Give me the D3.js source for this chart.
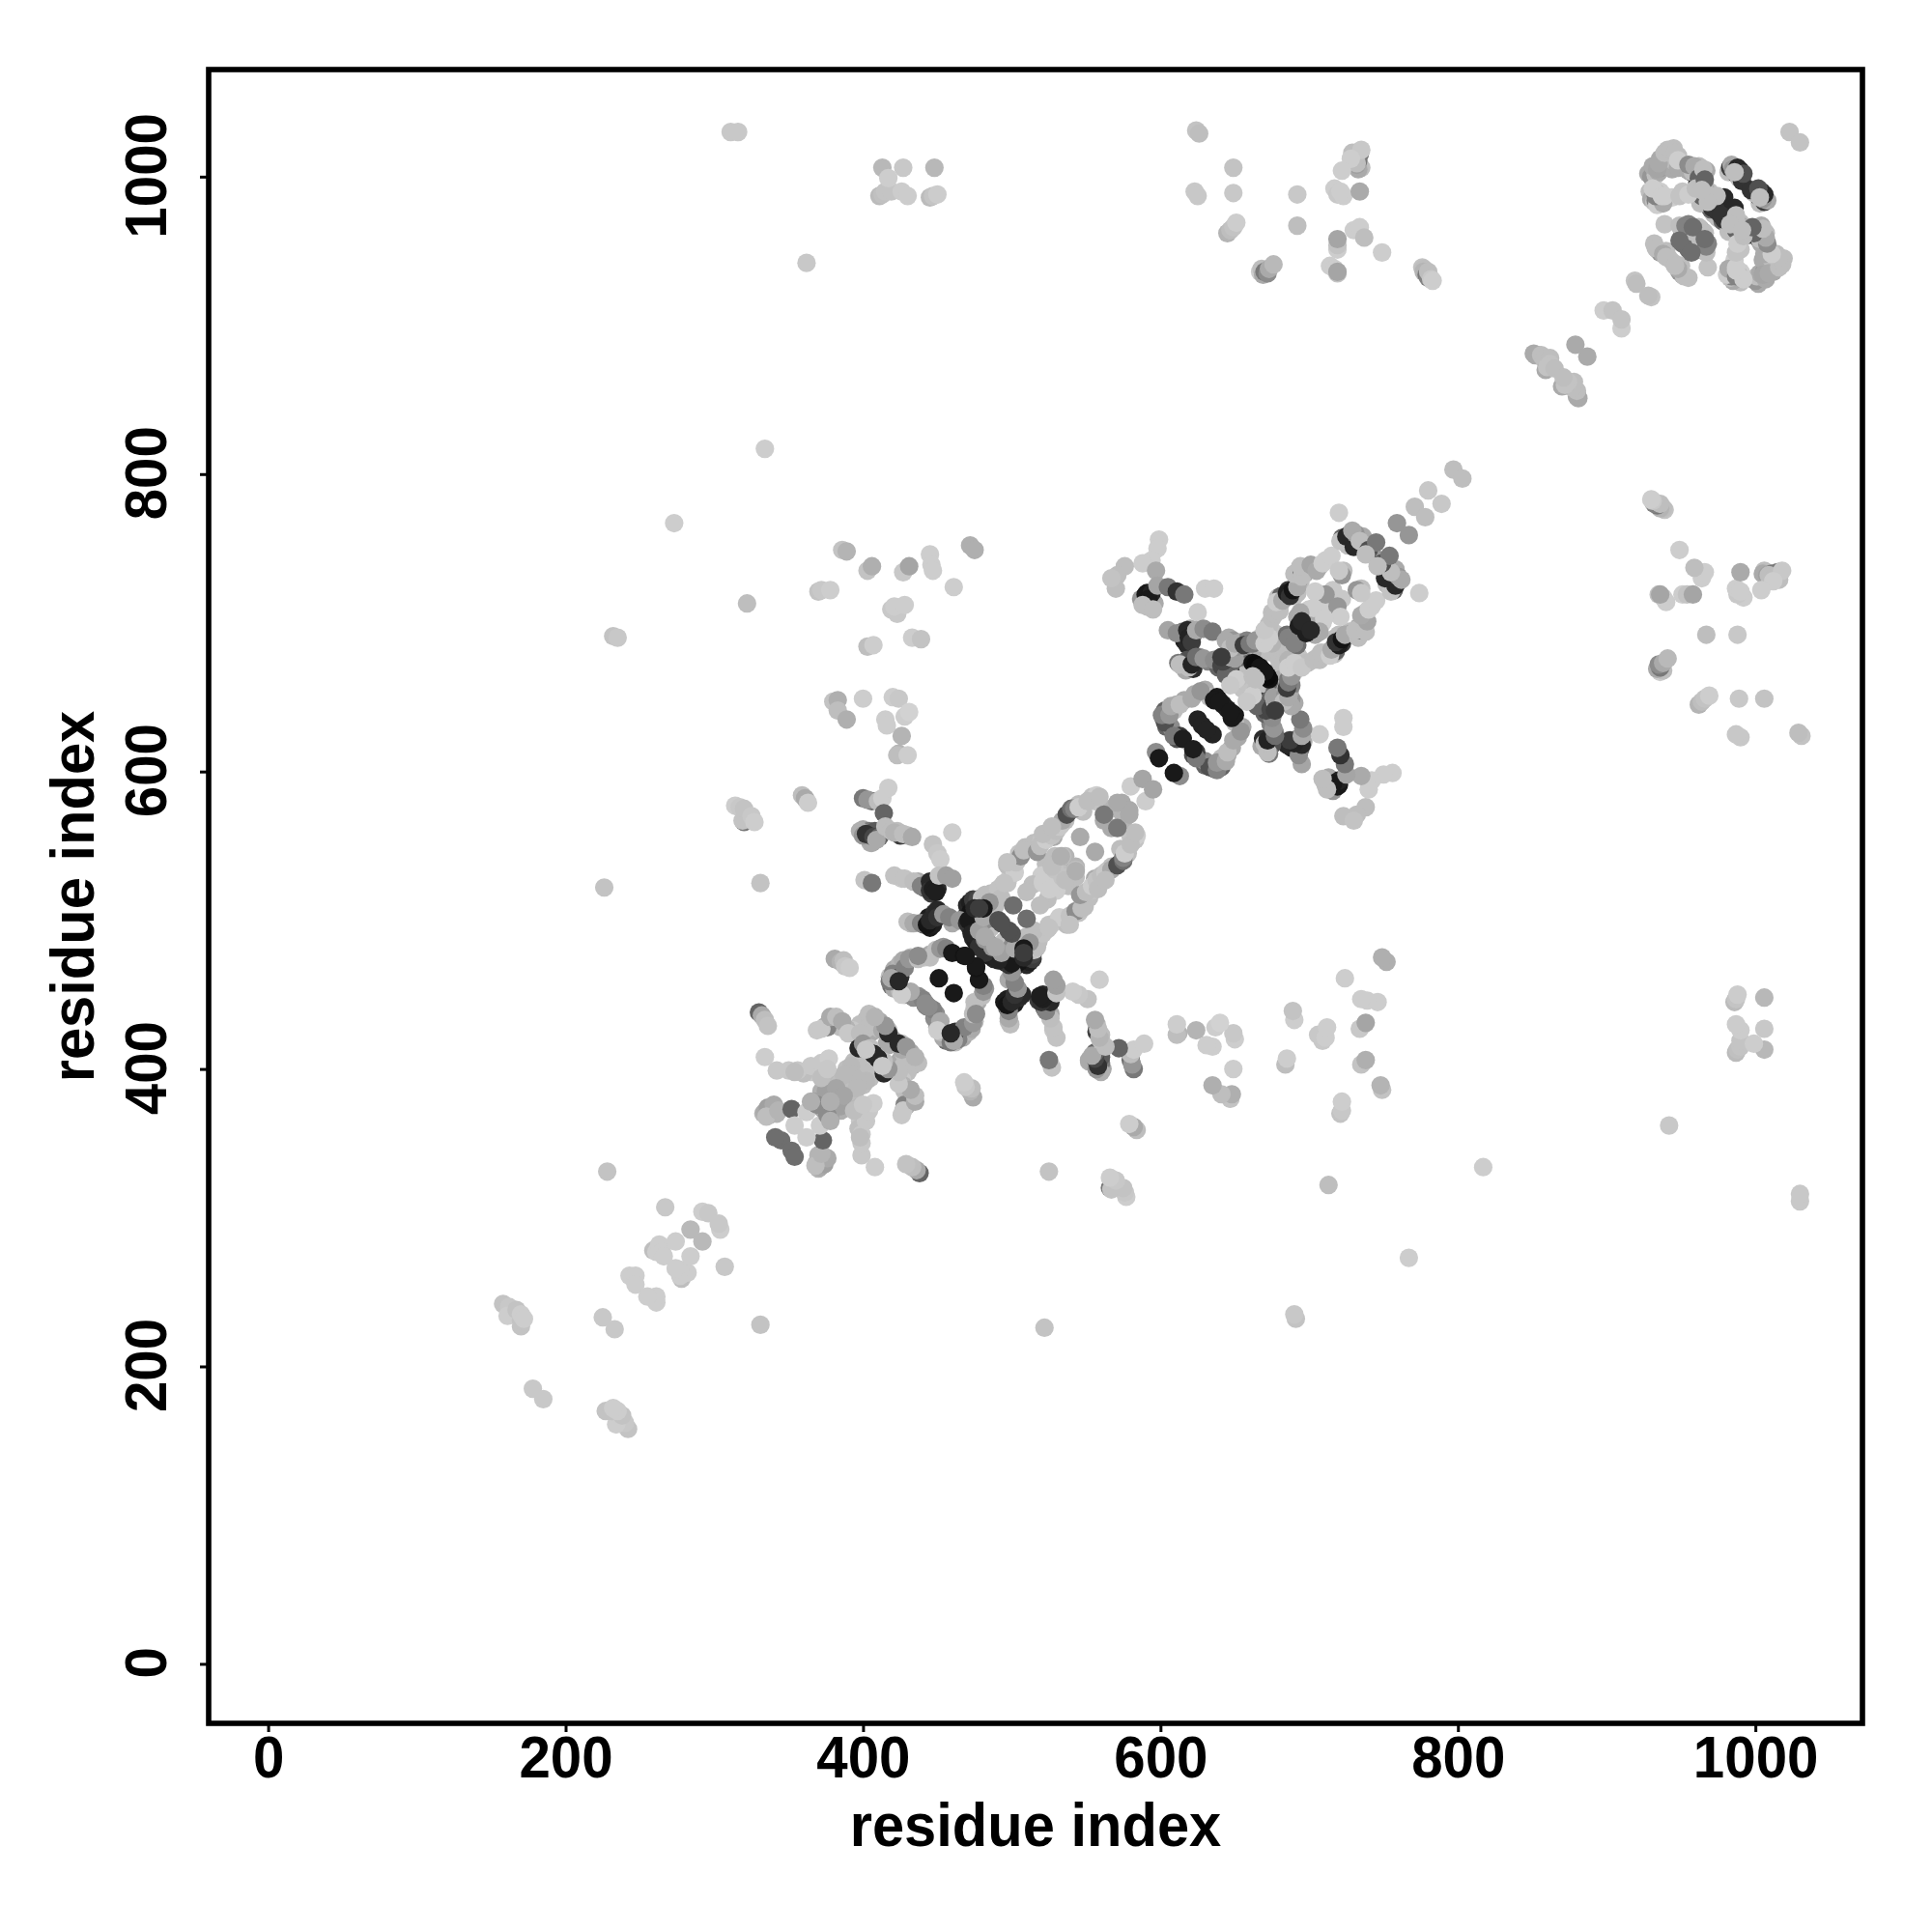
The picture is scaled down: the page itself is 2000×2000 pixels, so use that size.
<!DOCTYPE html>
<html>
<head>
<meta charset="utf-8">
<script src="https://cdnjs.cloudflare.com/ajax/libs/d3/7.8.5/d3.min.js"></script>
<style>html,body{margin:0;padding:0;background:#fff}svg{display:block}</style>
</head>
<body>
<script>
// Each contact: [residue i, residue j, grey level]; the map is symmetric, so j > i is listed.
const topLeftContacts=[[311,1030,200],[316,1030,200],[362,942,200],[413,1006,184],[427,1006,200],[448,1006,184],[411,987,187],[413,988,192],[415,990,196],[419,990,196],[417,999,205],[426,990,204],[430,987,204],[445,986,187],[447,987,196],[450,988,204]];
const topMiddleContacts=[[624,1031,195],[626,1029,190],[649,1006,195],[623,990,200],[625,987,200],[649,989,200],[645,962,180],[647,964,190],[649,966,195],[651,969,205],[692,988,200],[692,967,190],[667,936,205],[668,938,190],[669,934,170],[670,936,120],[672,935,140],[673,938,170],[676,941,185],[714,940,205],[717,938,205],[719,935,195],[719,936,165],[749,949,205],[719,951,205],[719,954,195],[719,958,165],[730,964,205],[734,966,205],[737,959,190],[776,939,195],[777,938,190],[777,936,180],[779,934,120],[780,932,130],[780,936,190],[782,931,200],[783,930,205],[735,1006,190],[733,1005,170],[732,1008,160],[733,1011,120],[734,1015,120],[730,1010,195],[732,1009,190],[731,1013,190],[729,1016,190],[735,1018,200],[728,1012,205],[722,1004,205],[717,992,205],[719,988,200],[723,987,205],[721,990,205],[734,990,170]];
const upperFarContacts=[[334,817,205],[322,713,190],[386,749,195],[389,748,180],[403,735,195],[406,738,175],[427,734,200],[431,738,165],[445,746,205],[446,739,205],[447,735,205],[472,752,175],[475,749,175],[461,724,205],[370,721,195],[372,722,200],[378,722,205],[419,709,200],[423,706,200],[421,711,205],[428,712,205],[403,684,190],[407,685,205],[433,690,205],[439,689,195],[380,647,195],[383,648,175],[383,641,190],[389,635,175],[400,649,205],[420,650,205],[424,649,200],[415,635,205],[416,631,205],[428,637,205],[431,640,210],[426,624,180],[424,612,180],[423,611,190],[430,611,205],[273,767,205],[232,691,195],[235,690,200],[226,522,195],[228,331,195]];
const legExtra=[[400,561,170],[404,560,120],[405,555,90],[412,558,170],[405,552,175],[408,560,90],[417,561,190],[423,560,190],[430,557,180],[426,558,190],[406,552,170],[406,580,110],[426,528,200],[437,526,170],[432,498,190],[460,498,170],[443,524,40],[444,522,70],[446,524,30],[441,522,90],[448,523,35],[446,518,60],[449,524,30],[450,521,40],[441,497,90],[444,502,30],[447,498,25],[448,505,45],[445,495,25],[447,497,30],[470,504,50],[472,495,30],[474,488,40],[476,485,30],[479,487,90],[483,491,160],[476,503,140],[483,498,170],[486,495,190],[478,508,190],[482,500,140],[486,505,180],[489,510,190],[477,493,30],[476,498,25],[477,502,30],[478,507,50],[482,513,160],[470,510,40],[472,512,30],[474,514,60],[472,505,20],[476,507,35]];
const legContacts=[[314,577,205],[317,576,200],[320,566,120],[319,567,195],[320,575,195],[325,570,200],[327,566,205],[359,584,190],[361,582,170],[363,579,205],[331,525,195],[401,527,195],[406,525,120],[400,582,120],[403,581,150],[410,580,190],[413,582,205],[417,589,205],[414,572,100],[398,560,175],[400,557,150],[402,558,50],[407,556,70],[411,556,100],[409,554,170],[415,563,190],[419,560,190],[425,557,60],[421,559,180],[427,558,190],[433,556,170],[447,551,195],[450,545,200],[452,541,205],[460,559,205],[421,530,195],[428,528,195],[434,526,190],[439,523,130],[445,526,40],[445,520,50],[447,521,30],[449,519,30],[451,530,195],[456,530,160],[460,528,160],[430,499,190],[434,498,170],[439,498,130],[443,497,20],[445,500,40],[450,507,40],[450,502,50],[454,504,150],[458,502,130],[465,500,150],[470,498,50],[473,500,40],[475,511,60],[477,514,70],[471,500,25],[473,491,35],[478,482,50],[482,487,150],[478,493,160],[481,502,170],[486,511,190],[484,517,180]];
const ringExtra=[[418,462,190],[421,467,170],[425,471,180],[427,473,170],[432,475,190],[441,475,200],[445,477,170],[449,480,190],[454,482,150],[419,456,110],[421,454,170],[425,452,190],[430,451,150],[437,449,140],[442,443,130]];
const ringContacts=[[418,459,120],[420,464,130],[425,462,50],[428,468,130],[431,474,150],[437,474,190],[445,475,190],[452,481,150],[456,481,130],[460,478,25],[468,476,20],[476,469,25],[419,461,170],[428,450,150],[434,448,140],[440,447,130],[444,442,140],[432,452,170],[451,461,25],[426,450,205],[424,459,40],[437,476,140]];
const firstHelixExtra=[[480,515,195],[486,518,190],[494,524,195],[499,530,205],[497,537,190],[501,537,195],[504,541,170],[505,545,195],[509,549,190],[515,552,190],[520,554,195],[525,557,190],[528,556,170],[533,564,190],[536,567,190],[540,574,170],[545,578,190],[548,573,190],[554,583,195],[557,584,205],[556,580,195],[529,543,190],[523,538,190],[532,536,190],[536,543,180],[520,530,205],[514,524,190],[526,528,205],[567,575,180],[562,567,170],[574,579,170]];
const firstHelixContacts=[[482,517,190],[491,521,195],[497,525,195],[493,515,190],[502,532,205],[503,539,195],[506,543,140],[508,547,190],[517,546,150],[519,550,190],[523,554,205],[527,557,195],[530,560,190],[532,563,200],[534,567,170],[537,571,80],[540,575,110],[542,575,130],[545,576,205],[551,580,190],[559,583,190],[501,510,110],[491,500,80],[498,493,80],[510,519,190],[521,525,205],[526,528,205],[521,526,205],[529,534,195],[534,543,190],[527,536,190],[533,543,175],[546,556,170],[562,571,120],[571,579,170],[580,590,205],[588,595,165],[482,489,170],[497,539,195],[495,525,195],[485,512,150],[475,508,40],[481,508,25],[478,508,60],[521,558,190],[527,563,190],[597,613,140],[599,609,25]];
const denseCoreExtra=[[408,434,190],[402,433,180],[398,430,190],[393,426,200],[389,427,180],[381,433,190],[378,432,170],[375,429,170],[369,426,200],[385,428,190],[402,409,190],[400,413,40],[398,415,190],[401,421,170],[406,425,170],[411,427,190],[417,426,190],[419,421,170],[416,417,170],[404,437,190],[411,432,170],[389,400,190],[394,405,190],[397,403,190],[384,392,190],[380,390,185],[385,391,190],[372,385,175],[367,378,160],[372,374,170],[380,381,170],[365,398,200],[372,401,205],[360,397,190],[333,370,180],[337,369,170],[338,372,130],[339,373,190],[342,370,180]];
const denseCoreContacts=[[334,408,205],[342,399,200],[350,399,200],[356,399,200],[365,402,200],[372,404,200],[377,407,205],[330,438,100],[332,436,170],[334,433,190],[336,429,195],[334,371,170],[336,374,160],[340,376,170],[335,368,190],[343,372,180],[352,373,100],[362,371,205],[354,362,205],[345,352,110],[341,354,110],[376,428,130],[372,427,200],[378,435,170],[382,435,190],[386,432,170],[390,424,200],[406,433,190],[402,427,190],[398,424,190],[397,414,40],[400,417,150],[405,414,190],[413,426,170],[417,424,40],[415,429,150],[408,435,180],[410,407,30],[407,410,40],[392,402,185],[393,396,185],[387,396,185],[375,385,160],[382,387,165],[369,376,140],[378,378,175],[365,378,175],[402,413,200],[372,394,190],[376,400,200],[354,398,190],[381,474,170],[385,472,180],[387,473,190],[388,469,200],[391,468,205]];
const crossExtra=[[589,717,40],[591,720,30],[593,718,25],[595,714,30],[588,714,190],[591,711,190],[596,713,170],[615,694,120],[617,691,40],[620,693,60],[616,688,30],[618,685,40],[622,692,150],[620,696,170],[615,671,50],[617,668,170],[619,673,40],[618,675,80],[622,669,45],[626,677,150],[632,674,130],[639,670,100],[644,669,150],[640,674,60],[602,636,120],[604,640,170],[603,641,100],[605,636,60],[609,641,190],[611,645,170],[616,648,170],[623,652,170],[630,655,170],[633,650,190],[638,650,25],[645,642,30],[604,630,100],[607,630,140],[611,622,80],[613,624,60],[660,672,30],[665,673,20],[663,669,40],[668,668,25],[658,674,180],[680,690,190],[678,689,175],[647,662,200],[652,660,200],[656,655,195],[660,658,195],[664,654,190],[672,696,190],[674,692,200],[668,690,190],[670,681,190],[672,683,195],[674,680,190],[678,683,190],[647,668,60],[646,665,80],[648,673,100],[673,683,190],[662,681,170],[650,681,130],[654,677,100],[645,675,50]];
const crossContacts=[[599,756,205],[598,750,205],[594,742,205],[588,740,205],[576,738,190],[571,732,190],[570,723,190],[567,730,195],[597,735,170],[587,716,150],[590,719,25],[594,720,35],[592,716,25],[588,712,190],[595,709,190],[598,725,165],[605,724,120],[611,721,50],[616,719,120],[630,723,205],[636,723,205],[625,707,205],[605,695,165],[611,693,140],[618,695,40],[619,690,35],[621,687,60],[624,695,170],[629,696,140],[635,694,120],[612,673,120],[613,672,190],[619,670,190],[621,672,35],[624,677,110],[629,676,150],[636,675,140],[641,671,70],[644,665,100],[642,674,70],[648,684,170],[647,677,190],[650,676,160],[655,684,170],[662,687,170],[667,690,205],[673,695,205],[677,693,195],[603,633,80],[601,638,130],[606,638,150],[607,644,170],[613,645,190],[621,649,170],[627,654,150],[636,648,25],[640,647,25],[625,635,35],[609,624,120],[615,622,30],[628,631,35],[662,673,15],[664,672,10],[667,670,20],[651,662,205],[647,658,200],[662,664,190],[673,699,190],[671,693,190],[669,686,190],[675,686,180],[685,692,110],[686,690,130]];
const secondHelixExtra=[[673,698,190],[675,707,190],[680,711,195],[679,717,190],[683,717,60],[681,718,100],[686,722,60],[688,719,30],[690,718,190],[692,720,190],[694,727,190],[693,729,60],[697,733,170],[699,736,170],[703,737,190],[707,738,190],[711,742,205],[722,757,100],[724,754,190],[727,759,60],[728,753,40],[726,752,190],[732,756,190],[736,758,170],[735,751,60],[738,750,170],[742,748,150],[723,735,190],[716,722,200],[707,716,190],[700,709,205],[708,714,205],[699,704,170],[692,704,170],[693,698,30],[646,690,170],[649,688,150],[652,684,150],[654,687,170],[658,688,130],[662,686,120],[667,688,170]];
const secondHelixContacts=[[644,688,170],[647,683,190],[641,677,60],[650,686,170],[656,685,60],[660,686,120],[664,688,150],[670,686,205],[673,690,205],[670,695,200],[675,703,190],[677,706,190],[680,708,190],[678,714,205],[682,715,170],[685,720,30],[687,718,50],[689,722,20],[692,724,170],[690,733,190],[695,735,80],[695,731,190],[694,738,190],[701,739,165],[705,735,170],[709,740,205],[715,745,205],[721,755,195],[725,758,40],[730,751,40],[731,760,150],[729,762,170],[734,755,190],[740,749,80],[722,732,150],[720,735,200],[711,719,150],[704,721,205],[703,710,205],[694,707,170],[695,701,40],[745,754,120],[738,746,190],[759,767,150],[771,778,190],[780,789,200],[797,803,190],[720,774,205]];
const farEndExtra=[[928,1002,170],[930,1000,150],[933,1001,190],[936,1012,170],[941,1018,190],[945,1019,190],[948,1014,190],[951,1008,100],[953,1007,150],[957,1003,100],[960,1003,150],[963,995,190],[961,996,40],[969,990,190],[929,990,190],[930,985,170],[932,983,190],[935,985,130],[936,990,205],[934,989,190],[951,990,195],[944,986,205],[975,982,40],[977,984,35],[982,1003,190],[983,1006,60],[984,1008,170],[987,1002,50],[990,1004,40],[989,999,190],[991,997,50],[972,975,190],[970,978,100],[966,985,80],[963,982,190],[961,988,190],[967,990,170],[932,955,190],[934,951,170],[936,949,150],[940,950,190],[942,945,190],[951,962,130],[951,955,110],[955,968,130],[963,958,190],[963,965,170],[966,962,190],[964,987,100],[933,984,130],[936,986,170],[938,985,190],[934,981,205],[938,982,170],[933,1004,190],[935,1003,170],[936,1006,150],[938,1008,190],[941,1010,190],[944,1005,170],[943,1012,205],[946,1010,190],[948,1006,170],[955,1004,170],[967,1004,170],[963,1002,170],[958,1003,190],[962,1007,190],[957,1007,190]];
const farEndContacts=[[1023,1030,195],[931,1007,170],[934,1005,165],[935,1009,170],[939,1016,190],[943,1018,190],[946,1016,190],[948,1011,205],[955,1008,140],[959,1007,170],[962,999,100],[965,1005,190],[933,987,130],[931,992,205],[937,987,205],[939,987,205],[949,987,195],[955,988,205],[960,992,190],[965,992,190],[970,987,190],[979,986,40],[985,1005,150],[988,1006,40],[992,1002,80],[986,1003,190],[939,968,195],[949,967,190],[953,967,130],[958,966,110],[949,957,110],[933,952,190],[938,948,170],[940,946,190],[971,979,50],[974,977,50],[974,987,190],[968,983,190],[966,998,100],[964,991,190],[919,930,195],[920,928,190],[898,910,205],[904,910,195],[879,887,170],[851,881,170],[854,880,170],[852,880,170],[856,880,190],[858,877,190],[862,878,190],[859,870,170],[862,874,195],[860,872,195],[865,871,190]];
const lowerLeftContacts=[[267,307,200],[292,304,205],[296,303,200],[284,292,185],[259,278,190],[261,277,205],[263,282,205],[265,277,205],[274,284,205],[266,274,205],[243,261,205],[247,261,205],[247,255,205],[225,233,200],[158,242,195],[162,240,200],[161,234,205],[167,238,195],[170,227,195],[170,231,195],[170,235,205],[172,232,205],[178,185,200]];
const axisTicks=[0,200,400,600,800,1000];
const axisTitle="residue index";

const contacts=[].concat(lowerLeftContacts,topLeftContacts,upperFarContacts,denseCoreExtra,denseCoreContacts,legExtra,legContacts,ringExtra,ringContacts,firstHelixExtra,firstHelixContacts,crossExtra,crossContacts,secondHelixExtra,secondHelixContacts,topMiddleContacts,farEndExtra,farEndContacts);
const marks=[];
contacts.forEach(c=>{marks.push({x:c[0],y:c[1],g:c[2]});marks.push({x:c[1],y:c[0],g:c[2]});});

const svg=d3.select("body").append("svg").attr("width",2000).attr("height",2000);
const x=d3.scaleLinear().domain([-40,1072]).range([216,1928]);
const y=d3.scaleLinear().domain([-40,1072]).range([1784,72]);

svg.append("g").selectAll("circle").data(marks).join("circle")
  .attr("cx",d=>x(d.x)).attr("cy",d=>y(d.y)).attr("r",9.6)
  .attr("fill",d=>d3.rgb(d.g,d.g,d.g));

svg.append("rect").attr("x",x.range()[0]).attr("y",y.range()[1])
  .attr("width",x.range()[1]-x.range()[0]).attr("height",y.range()[0]-y.range()[1])
  .attr("fill","none").attr("stroke","#000").attr("stroke-width",5.6);

const font="'Liberation Sans'";
const xAxis=svg.append("g").attr("transform",`translate(0,${y.range()[0]})`)
  .call(d3.axisBottom(x).tickValues(axisTicks).tickSize(9).tickFormat(d3.format("d")));
const yAxis=svg.append("g").attr("transform",`translate(${x.range()[0]},0)`)
  .call(d3.axisLeft(y).tickValues(axisTicks).tickSize(9).tickFormat(d3.format("d")));
[xAxis,yAxis].forEach(a=>{
  a.select(".domain").remove();
  a.selectAll("line").attr("stroke","#000").attr("stroke-width",3);
  a.selectAll("text").attr("fill","#000").style("font-family",font).style("font-weight","bold").style("font-size","61px");
});
xAxis.selectAll("text").attr("y",56).attr("dy",0).attr("text-anchor","middle").attr("transform","scale(0.955,1)");
yAxis.selectAll("text").attr("x",0).attr("dy",0).attr("y",0)
  .attr("text-anchor","middle")
  .attr("transform","translate(-44.5,-1.5) rotate(-90) scale(0.955,1)");

svg.append("text").attr("transform",`translate(${(x.range()[0]+x.range()[1])/2},1911) scale(0.947,1)`)
  .attr("text-anchor","middle").style("font-family",font).style("font-weight","bold").style("font-size","63px").text(axisTitle);
svg.append("text").attr("transform",`translate(97,${(y.range()[0]+y.range()[1])/2}) rotate(-90) scale(0.947,1)`)
  .attr("text-anchor","middle").style("font-family",font).style("font-weight","bold").style("font-size","63px").text(axisTitle);
</script>
</body>
</html>
